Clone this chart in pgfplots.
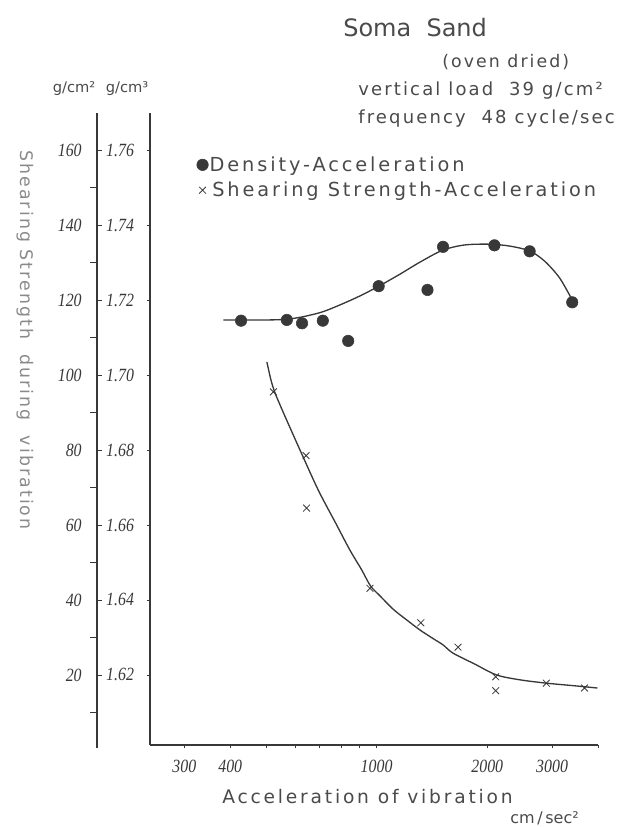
\documentclass[border=0pt]{standalone}
\usepackage{fontspec}
\usepackage{pgfplots}
\pgfplotsset{compat=1.18}
\setmainfont{DejaVu Sans}
\newfontfamily\hand[LetterSpace=12]{DejaVu Sans}
\newfontfamily\handB[LetterSpace=15]{DejaVu Sans}
\newfontfamily\titlef{DejaVu Sans}
\newfontfamily\tickf[FakeStretch=0.85]{Liberation Serif}
\definecolor{ink}{HTML}{383838}
\definecolor{txt}{HTML}{4A4A4A}
\definecolor{lt}{HTML}{8A8A8A}

\begin{document}
\begin{tikzpicture}
\useasboundingbox (0,0) rectangle (478.5pt,-620.25pt);

% outer scale: shearing strength (g/cm^2)
\begin{axis}[
  at={(72.75pt,-561pt)}, anchor=south west,
  scale only axis, width=10pt, height=476.25pt,
  xmin=0, xmax=1, ymin=0.53, ymax=169.9,
  hide x axis, axis y line=left,
  axis line style={draw=ink, line width=1.2pt, -},
  ytick={20,40,60,80,100,120,140,160},
  yticklabels={20,40,60,80,100,120,140,160},
  tick align=inside, major tick length=3.5pt,
  tick style={draw=ink, line width=0.6pt},
  extra y ticks={10,30,50,70,90,110,130,150},
  extra y tick labels={},
  extra y tick style={tick align=outside, major tick length=5pt},
  yticklabel style={font=\tickf\itshape\fontsize{14}{15}\selectfont, text=ink, xshift=-8pt},
]
\addplot[draw=none] coordinates {(0.5,50)};
\end{axis}

% main axis: density scale (1.60 + value/1000)
\begin{axis}[
  at={(112.5pt,-558.75pt)}, anchor=south west,
  scale only axis, width=336pt, height=474pt,
  xmode=log, xmin=242, xmax=4000, ymin=1.3, ymax=169.9,
  axis x line=bottom, axis y line=left,
  axis line style={draw=ink, line width=1.2pt, -},
  xtick={300,400,1000,2000,3000},
  xticklabels={300,400,1000,2000,3000},
  minor xtick={500,600,700,800,900,4000},
  ytick={20,40,60,80,100,120,140,160},
  yticklabels={1.62,1.64,1.66,1.68,1.70,1.72,1.74,1.76},
  tick align=outside, major tick length=2.5pt, minor tick length=2.5pt,
  tick style={draw=ink, line width=0.5pt},
  ticklabel style={font=\tickf\itshape\fontsize{14}{15}\selectfont, text=ink},
  yticklabel style={xshift=-6pt},
  xticklabel style={yshift=-5pt},
  clip=false,
  legend cell align=left,
  legend style={at={(0.095,0.94)}, anchor=north west, draw=none, fill=none,
    font=\handB\fontsize{14.5}{15}\selectfont, text=txt, row sep=2.5pt,
    nodes={inner xsep=1pt, inner ysep=2pt}},
  legend image code/.code={\draw[mark repeat=2,mark phase=2,#1] plot coordinates {(0cm,0cm) (0.12cm,0cm) (0.24cm,0cm)};},
]
% fitted curves
\addplot[ink, line width=1pt, smooth, forget plot] coordinates {
 (383,114.7) (428,114.7) (513,114.7) (571,114.9) (627,115.5) (710,116.8)
 (795,118.7) (901,121.1) (1014,123.7) (1157,126.9) (1311,130.1) (1513,133.3)
 (1737,134.7) (2030,134.9) (2301,134.4) (2607,133.1) (2862,130.4) (3145,125.9) (3404,120.0)};
\addplot[ink, line width=1pt, smooth, forget plot] coordinates {
 (503,103.5) (516,98.7) (530,95.1) (564,88.9) (619,80.0) (694,69.3) (775,60.4)
 (846,53.3) (911,48.0) (963,43.7) (1021,41.1) (1110,37.5) (1206,34.7) (1311,32.0)
 (1424,29.7) (1516,28.0) (1614,25.8) (1848,22.9) (2117,20.0) (2449,18.7)
 (2894,17.8) (3453,17.1) (3987,16.5)};
% density points (plotted as 1000*(density-1.60))
\addplot[only marks, mark=*, mark size=4.3pt, mark options={fill=ink, draw=ink}] coordinates {
 (428,114.5) (570,114.7) (627,113.8) (714,114.5) (837,109.1) (1013,123.7)
 (1375,122.7) (1516,134.2) (2091,134.6) (2607,133.0) (3404,119.4)};
\addlegendentry{Density-Acceleration}
% shearing strength points
\addplot[only marks, mark=x, mark size=3.6pt, mark options={draw=ink, line width=0.6pt}] coordinates {
 (524,95.5) (643,78.5) (645,64.5) (959,43.1) (1319,33.9) (1665,27.4)
 (2108,19.5) (2108,15.8) (2894,17.8) (3676,16.5)};
\addlegendentry{\hspace{2pt}Shearing Strength-Acceleration}
\end{axis}

\begin{scope}[x=0.75pt, y=-0.75pt]
\node[anchor=base west, inner sep=0, font=\titlef\fontsize{18}{20}\selectfont, text=txt] at (343,37) {Soma\ \ Sand};
\node[anchor=base west, inner sep=0, font=\hand\fontsize{13}{15}\selectfont, text=txt] at (442,68) {(oven dried)};
\node[anchor=base west, inner sep=0, font=\hand\fontsize{13.5}{15}\selectfont, text=txt] at (358,96) {vertical load\ \ 39 g/cm²};
\node[anchor=base west, inner sep=0, font=\hand\fontsize{13.5}{15}\selectfont, text=txt] at (358,124) {frequency\ \ 48 cycle/sec};
\node[anchor=base, inner sep=0, font=\titlef\fontsize{11}{13}\selectfont, text=txt] at (74,93) {g/cm²};
\node[anchor=base, inner sep=0, font=\titlef\fontsize{11}{13}\selectfont, text=txt] at (127,93) {g/cm³};
\node[rotate=-90, inner sep=0, font=\hand\fontsize{13}{15}\selectfont, text=lt] at (25,340) {Shearing Strength\ \ during\ \ vibration};
\node[anchor=base west, inner sep=0, font=\handB\fontsize{14}{15}\selectfont, text=txt] at (222,803) {Acceleration of vibration};
\node[anchor=base west, inner sep=0, font=\titlef\fontsize{12}{14}\selectfont, text=txt] at (510,823) {cm\,/\,sec²};
\end{scope}
\end{tikzpicture}
\end{document}
